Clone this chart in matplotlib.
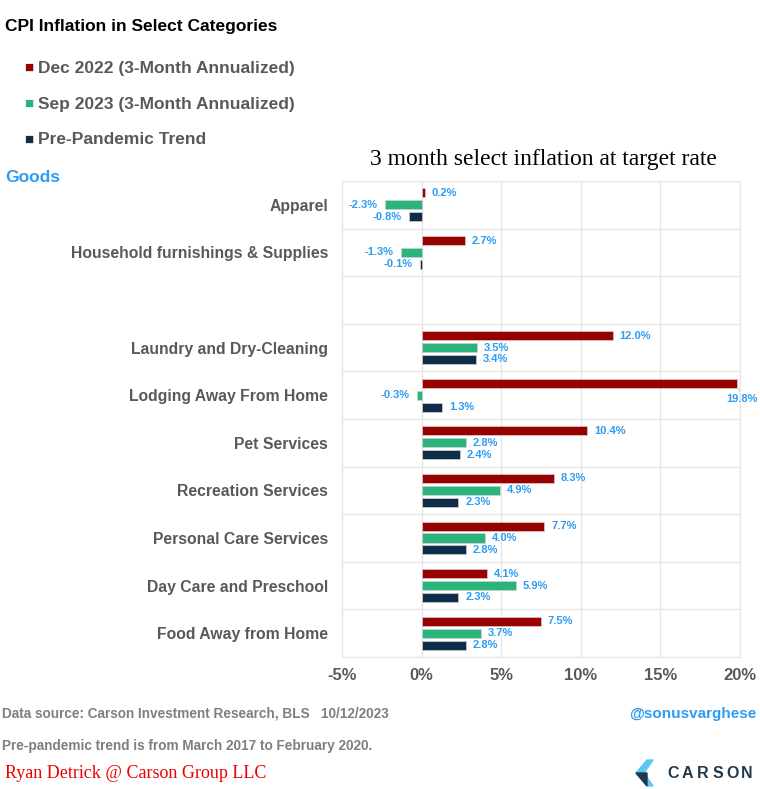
import numpy as np
import matplotlib
matplotlib.use("Agg")
import matplotlib.pyplot as plt
from matplotlib.patches import Polygon

plt.rcParams['font.family'] = ['Liberation Sans', 'DejaVu Sans']

# data
categories = ["Apparel", "Household furnishings & Supplies", "",
              "Laundry and Dry-Cleaning", "Lodging Away From Home", "Pet Services",
              "Recreation Services", "Personal Care Services", "Day Care and Preschool",
              "Food Away from Home"]
dec_2022 = [0.2, 2.7, np.nan, 12.0, 19.8, 10.4, 8.3, 7.7, 4.1, 7.5]
sep_2023 = [-2.3, -1.3, np.nan, 3.5, -0.3, 2.8, 4.9, 4.0, 5.9, 3.7]
pre_pandemic = [-0.8, -0.1, np.nan, 3.4, 1.3, 2.4, 2.3, 2.8, 2.3, 2.8]
series_names = ["Dec 2022 (3-Month Annualized)", "Sep 2023 (3-Month Annualized)", "Pre-Pandemic Trend"]
x_ticks = [-5, 0, 5, 10, 15, 20]

red = "#990000"
green = "#2AB37B"
navy = "#0F2D47"
gray = "#595959"
blue = "#2E9CF2"

fig = plt.figure(figsize=(7.6, 7.89), dpi=100)
ax = fig.add_axes([342/760, 1 - 657/789, 398/760, 476/789])

y = np.arange(len(categories))
h = 0.19
offs = [-0.25, 0.0, 0.25]
for vals, col, off in zip([dec_2022, sep_2023, pre_pandemic], [red, green, navy], offs):
    vals = np.array(vals, dtype=float)
    ax.barh(y + off, vals, height=h, color=col, edgecolor="#d0d0d0", linewidth=0.5, zorder=3)
    for yi, v in zip(y, vals):
        if np.isnan(v):
            continue
        lab = f"{v:.1f}%"
        if v >= 19:
            ax.annotate(lab, xy=(v, yi + off), xytext=(v + 1.3, yi + off + 0.33),
                        ha="right", va="center", fontsize=8, color=blue, fontweight="bold",
                        arrowprops=dict(arrowstyle="-", color="#bbbbbb", lw=0.6,
                                        shrinkA=0, shrinkB=4), annotation_clip=False)
        elif v >= 0:
            ax.annotate(lab, xy=(v, yi + off), xytext=(5, 0), textcoords="offset points",
                        ha="left", va="center", fontsize=8, color=blue, fontweight="bold")
        else:
            ax.annotate(lab, xy=(v, yi + off), xytext=(-5, 0), textcoords="offset points",
                        ha="right", va="center", fontsize=8, color=blue, fontweight="bold")

ax.set_xlim(-5, 20)
ax.set_ylim(len(categories) - 0.5, -0.5)
ax.set_xticks(x_ticks)
ax.set_xticklabels([f"{t}%" for t in x_ticks], fontsize=12, fontweight="bold", color=gray)
ax.set_yticks(y)
ax.set_yticklabels(categories, fontsize=11.3, fontweight="bold", color=gray)
ax.tick_params(length=0, axis="y", pad=10)
ax.tick_params(length=0, axis="x", pad=8)
ax.set_yticks(np.arange(len(categories) + 1) - 0.5, minor=True)
ax.grid(axis="x", color="#e6e6e6", lw=1, zorder=0)
ax.grid(axis="y", which="minor", color="#e6e6e6", lw=1, zorder=0)
ax.grid(axis="y", which="major", visible=False)
ax.tick_params(which="minor", length=0)
for s in ax.spines.values():
    s.set_color("#e6e6e6")

# header texts
fig.text(5/760, 1 - 27/789, "CPI Inflation in Select Categories", fontsize=12.5,
         fontweight="bold", color="black", va="center")
for i, (name, col) in enumerate(zip(series_names, [red, green, navy])):
    yy = 1 - (68 + 36 * i) / 789
    fig.text(24/760, yy, "\u25A0", fontsize=11, color=col, va="center")
    fig.text(38/760, yy, name, fontsize=12.5, fontweight="bold", color=gray, va="center")
fig.text(5/760, 1 - 178/789, "Goods", fontsize=12.5, fontweight="bold", color=blue, va="center")
fig.text(543/760, 1 - 160/789, "3 month select inflation at target rate", fontsize=17,
         family="Liberation Serif", ha="center", va="center", color="black")

# footer texts
fig.text(2/760, 1 - 714/789, "Data source: Carson Investment Research, BLS   10/12/2023",
         fontsize=9.8, fontweight="bold", color="#7f7f7f", va="center")
fig.text(756/760, 1 - 714/789, "@sonusvarghese", fontsize=11, fontweight="bold",
         color=blue, ha="right", va="center")
fig.text(2/760, 1 - 746/789, "Pre-pandemic trend is from March 2017 to February 2020.",
         fontsize=9.8, fontweight="bold", color="#7f7f7f", va="center")
fig.text(5/760, 1 - 773/789, "Ryan Detrick @ Carson Group LLC", fontsize=13,
         family="Liberation Serif", color="#ee0000", va="center")

# carson logo
def px(xp, yp):
    return (xp / 760, 1 - yp / 789)
fig.patches.append(Polygon([px(647, 760), px(636, 773), px(647, 786), px(653, 786), px(644, 773), px(653, 760)],
                           closed=True, transform=fig.transFigure, color="#5CC8F5"))
fig.patches.append(Polygon([px(636, 773), px(647, 786), px(647, 773)],
                           closed=True, transform=fig.transFigure, color="#1f3a4f"))
for i, ch in enumerate("CARSON"):
    fig.text((673 + 14.8 * i) / 760, 1 - 774/789, ch, fontsize=11.5, color="#1f3a4f",
             va="center", ha="center", family="Liberation Sans", fontweight="bold")

fig.savefig("out.png", dpi=100, facecolor="white")
